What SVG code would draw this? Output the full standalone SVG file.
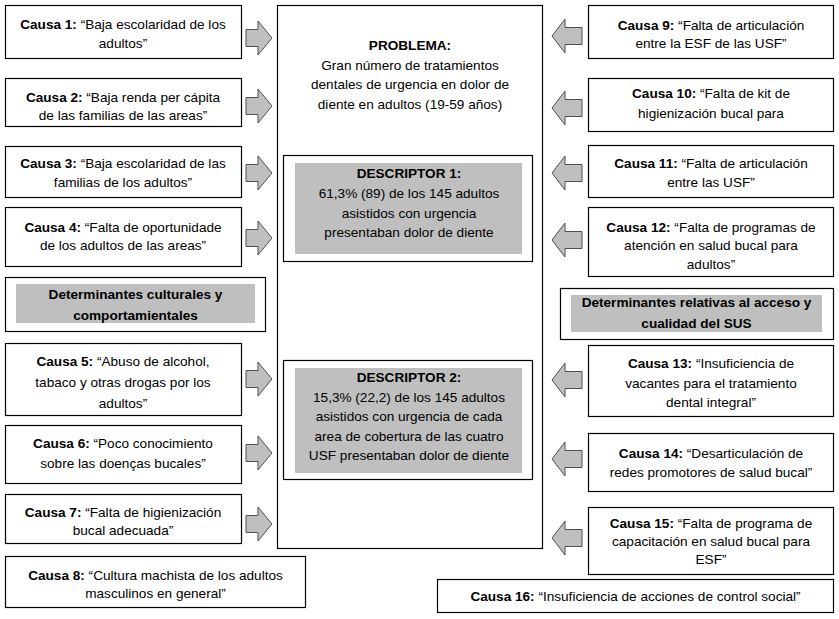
<svg xmlns="http://www.w3.org/2000/svg" width="839" height="619" viewBox="0 0 839 619">
<style>
.box{fill:#fff;stroke:#000;stroke-width:1.2}
.gray{fill:#bfbfbf;stroke:none}
.arr{fill:#bfbfbf;stroke:#505050;stroke-width:1}
text{font-family:"Liberation Sans",Arial,sans-serif;font-size:13.6px;fill:#000;text-anchor:middle}
.b{font-weight:bold}
</style>
<defs>
<path id="ra" d="M -13,-8.5 H -1 V -17 L 13,0 L -1,17 V 8.5 H -13 Z"/>
<path id="la" d="M 15,-8.5 H -2 V -17 L -15,0 L -2,17 V 8.5 H 15 Z"/>
</defs>
<rect width="839" height="619" fill="#fff"/>

<g id="problema">
<rect class="box" x="277.5" y="5.5" width="265" height="543"/>
<text x="410" y="49.5" class="b">PROBLEMA:</text>
<text x="410" y="69.5">Gran número de tratamientos</text>
<text x="410" y="89">dentales de urgencia en dolor de</text>
<text x="410" y="108.5">diente en adultos (19-59 años)</text>
</g>
<g id="descriptor1">
<rect class="box" x="283.5" y="155.5" width="249" height="106"/>
<rect class="gray" x="295" y="163" width="227" height="91"/>
<text x="409" y="177.5" class="b">DESCRIPTOR 1:</text>
<text x="409" y="197.5">61,3% (89) de los 145 adultos</text>
<text x="409" y="217.5">asistidos con urgencia</text>
<text x="409" y="237">presentaban dolor de diente</text>
</g>
<g id="descriptor2">
<rect class="box" x="283.5" y="360.5" width="249" height="119"/>
<rect class="gray" x="295" y="368" width="227" height="105"/>
<text x="409" y="381.5" class="b">DESCRIPTOR 2:</text>
<text x="409" y="401.5">15,3% (22,2) de los 145 adultos</text>
<text x="409" y="420.5">asistidos con urgencia de cada</text>
<text x="409" y="440.5">area de cobertura de las cuatro</text>
<text x="409" y="459.5">USF presentaban dolor de diente</text>
</g>

<g id="causa1">
<rect class="box" x="5.5" y="5.5" width="236" height="53"/>
<text x="123" y="28.5"><tspan class="b">Causa 1:</tspan> “Baja escolaridad de los</text>
<text x="123" y="47.5">adultos”</text>
</g>
<g id="causa2">
<rect class="box" x="5.5" y="78.5" width="236" height="48"/>
<text x="123" y="101.5"><tspan class="b">Causa 2:</tspan> “Baja renda per cápita</text>
<text x="123" y="119.5">de las familias de las areas”</text>
</g>
<g id="causa3">
<rect class="box" x="5.5" y="146.5" width="236" height="51"/>
<text x="123" y="167.5"><tspan class="b">Causa 3:</tspan> “Baja escolaridad de las</text>
<text x="123" y="186.5">familias de los adultos”</text>
</g>
<g id="causa4">
<rect class="box" x="5.5" y="207.5" width="236" height="59"/>
<text x="123" y="231.5"><tspan class="b">Causa 4:</tspan> “Falta de oportunidade</text>
<text x="123" y="249.5">de los adultos de las areas”</text>
</g>
<g id="det-culturales">
<rect class="box" x="5.5" y="277.5" width="260" height="54"/>
<rect class="gray" x="16" y="284" width="239" height="39"/>
<text x="135.5" y="298.5" class="b">Determinantes culturales y</text>
<text x="135.5" y="319.5" class="b">comportamientales</text>
</g>
<g id="causa5">
<rect class="box" x="5.5" y="343.5" width="236" height="72"/>
<text x="123" y="365.5"><tspan class="b">Causa 5:</tspan> “Abuso de alcohol,</text>
<text x="123" y="386.5">tabaco y otras drogas por los</text>
<text x="123" y="407.5">adultos”</text>
</g>
<g id="causa6">
<rect class="box" x="5.5" y="425.5" width="236" height="58"/>
<text x="123" y="447.5"><tspan class="b">Causa 6:</tspan> “Poco conocimiento</text>
<text x="123" y="467.5">sobre las doenças bucales”</text>
</g>
<g id="causa7">
<rect class="box" x="5.5" y="494.5" width="236" height="49"/>
<text x="123" y="516.5"><tspan class="b">Causa 7:</tspan> “Falta de higienización</text>
<text x="123" y="534.5">bucal adecuada”</text>
</g>
<g id="causa8">
<rect class="box" x="5.5" y="556.5" width="300" height="51"/>
<text x="155.5" y="579.5"><tspan class="b">Causa 8:</tspan> “Cultura machista de los adultos</text>
<text x="155.5" y="597.5">masculinos en general”</text>
</g>

<g id="causa9">
<rect class="box" x="588.5" y="5.5" width="245" height="53"/>
<text x="711" y="29.5"><tspan class="b">Causa 9:</tspan> “Falta de articulación</text>
<text x="711" y="47.5">entre la ESF de las USF”</text>
</g>
<g id="causa10">
<rect class="box" x="588.5" y="78.5" width="245" height="53"/>
<text x="711" y="97.5"><tspan class="b">Causa 10:</tspan> “Falta de kit de</text>
<text x="711" y="117.5">higienización bucal para</text>
</g>
<g id="causa11">
<rect class="box" x="588.5" y="145.5" width="245" height="52"/>
<text x="711" y="167.5"><tspan class="b">Causa 11:</tspan> “Falta de articulación</text>
<text x="711" y="186.5">entre las USF”</text>
</g>
<g id="causa12">
<rect class="box" x="588.5" y="207.5" width="245" height="69"/>
<text x="711" y="231.5"><tspan class="b">Causa 12:</tspan> “Falta de programas de</text>
<text x="711" y="249.5">atención en salud bucal para</text>
<text x="711" y="268.5">adultos”</text>
</g>
<g id="det-sus">
<rect class="box" x="560.5" y="288.5" width="273" height="51"/>
<rect class="gray" x="571" y="295" width="251" height="37"/>
<text x="696.5" y="306.5" class="b">Determinantes relativas al acceso y</text>
<text x="696.5" y="327.5" class="b">cualidad del SUS</text>
</g>
<g id="causa13">
<rect class="box" x="588.5" y="345.5" width="245" height="71"/>
<text x="711" y="367.5"><tspan class="b">Causa 13:</tspan> “Insuficiencia de</text>
<text x="711" y="387.5">vacantes para el tratamiento</text>
<text x="711" y="406.5">dental integral”</text>
</g>
<g id="causa14">
<rect class="box" x="588.5" y="433.5" width="245" height="58"/>
<text x="711" y="457.5"><tspan class="b">Causa 14:</tspan> “Desarticulación de</text>
<text x="711" y="476.5">redes promotores de salud bucal”</text>
</g>
<g id="causa15">
<rect class="box" x="588.5" y="507.5" width="245" height="67"/>
<text x="711" y="527.5"><tspan class="b">Causa 15:</tspan> “Falta de programa de</text>
<text x="711" y="545.5">capacitación en salud bucal para</text>
<text x="711" y="563.5">ESF”</text>
</g>
<g id="causa16">
<rect class="box" x="437.5" y="579.5" width="396" height="33"/>
<text x="635.5" y="600.5"><tspan class="b">Causa 16:</tspan> “Insuficiencia de acciones de control social”</text>
</g>

<g id="connectors">
<use href="#ra" class="arr" x="259" y="38"/>
<use href="#ra" class="arr" x="259" y="106"/>
<use href="#ra" class="arr" x="259" y="173"/>
<use href="#ra" class="arr" x="259" y="238"/>
<use href="#ra" class="arr" x="259" y="379"/>
<use href="#ra" class="arr" x="259" y="453"/>
<use href="#ra" class="arr" x="259" y="524"/>
<use href="#la" class="arr" x="567" y="36"/>
<use href="#la" class="arr" x="567" y="108"/>
<use href="#la" class="arr" x="567" y="173"/>
<use href="#la" class="arr" x="567" y="240"/>
<use href="#la" class="arr" x="567" y="380"/>
<use href="#la" class="arr" x="567" y="459"/>
<use href="#la" class="arr" x="567" y="538"/>
</g>
</svg>
